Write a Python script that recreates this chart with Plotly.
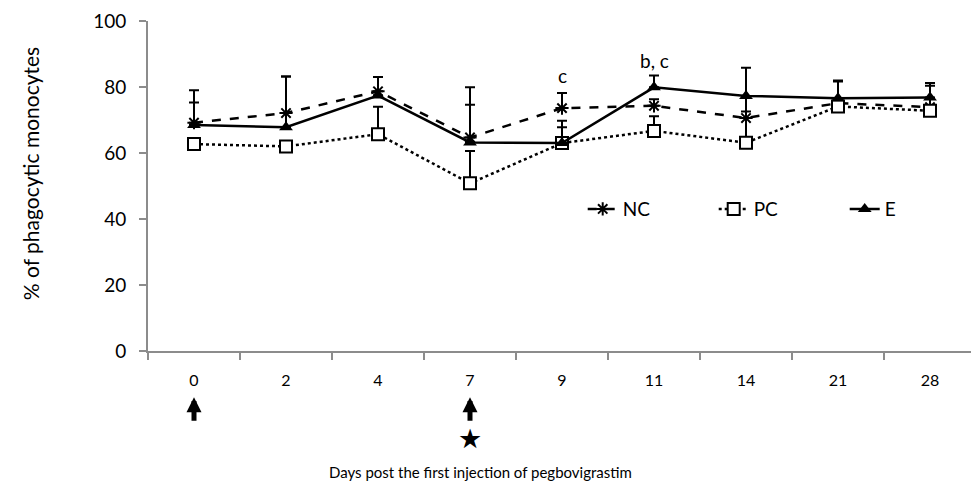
import plotly.graph_objects as go

days = ["0", "2", "4", "7", "9", "11", "14", "21", "28"]
nc = [69.2, 72.1, 78.7, 64.7, 73.6, 74.3, 70.6, 75.1, 73.9]
nc_err = [9.8, 11.1, 4.3, 9.9, 4.6, 2.0, 2.0, 6.6, 6.5]
pc = [62.7, 62.0, 65.7, 50.8, 63.0, 66.7, 63.1, 74.1, 72.8]
pc_err = [0.0, 0.0, 8.3, 9.8, 4.8, 4.4, 14.0, 0.0, 0.0]
e = [68.5, 67.8, 77.4, 63.2, 63.0, 79.9, 77.3, 76.6, 76.8]
e_err = [6.8, 15.4, 5.6, 16.7, 6.8, 3.6, 8.5, 5.4, 4.4]
sig_days = ["9", "11"]
sig_labels = ["c", "b, c"]
sig_y = [83.5, 88.0]
injection_days = ["0", "7"]
star_days = ["7"]
x_title = "Days post the first injection of pegbovigrastim"
y_title = "% of phagocytic monocytes"

FONT = "Lato"
fig = go.Figure()

def err(vals):
    return dict(type="data", array=vals, arrayminus=[0] * len(vals), symmetric=False,
                color="black", thickness=2, width=5)

fig.add_trace(go.Scatter(x=days, y=nc, name="NC", mode="lines+markers",
                         line=dict(color="black", width=2.5, dash="dash"),
                         marker=dict(symbol="asterisk-open", size=11, color="black",
                                     line=dict(color="black", width=2)),
                         error_y=err(nc_err)))
fig.add_trace(go.Scatter(x=days, y=pc, name="PC", mode="lines+markers",
                         line=dict(color="black", width=2.5, dash="dot"),
                         marker=dict(symbol="square", size=12, color="white",
                                     line=dict(color="black", width=2)),
                         error_y=err(pc_err)))
fig.add_trace(go.Scatter(x=days, y=e, name="E", mode="lines+markers",
                         line=dict(color="black", width=2.5),
                         marker=dict(symbol="triangle-up", size=12, color="black"),
                         error_y=err(e_err)))

annotations = []
for d, t, yv in zip(sig_days, sig_labels, sig_y):
    annotations.append(dict(x=days.index(d), y=yv, xref="x", yref="y", text=t, showarrow=False,
                            font=dict(family=FONT, size=19, color="black")))
for d in injection_days:
    annotations.append(dict(x=days.index(d), y=-0.14, xref="x", yref="paper", text="",
                            showarrow=True, ax=0, ay=25, axref="pixel", ayref="pixel",
                            arrowhead=2, arrowsize=0.6, arrowwidth=5, arrowcolor="black"))
for d in star_days:
    annotations.append(dict(x=days.index(d), y=-0.264, xref="x", yref="paper", text="★",
                            showarrow=False, yanchor="middle",
                            font=dict(family="DejaVu Sans", size=27, color="black")))
annotations.append(dict(x=0.401, y=-0.367, xref="paper", yref="paper", text=x_title,
                        showarrow=False, xanchor="center", yanchor="middle",
                        font=dict(family=FONT, size=15, color="black")))
annotations.append(dict(x=-0.1425, y=0.536, xref="paper", yref="paper", text=y_title,
                        showarrow=False, xanchor="center", yanchor="middle", textangle=-90,
                        font=dict(family=FONT, size=21, color="black")))

fig.update_layout(
    width=979, height=484,
    margin=dict(l=140, r=11, t=13, b=141, autoexpand=False),
    paper_bgcolor="white", plot_bgcolor="white",
    font=dict(family=FONT, size=16, color="black"),
    showlegend=True,
    legend=dict(orientation="h", x=0.525, y=0.43, xanchor="left", yanchor="middle",
                entrywidth=86, entrywidthmode="pixels",
                font=dict(family=FONT, size=19, color="black"),
                bgcolor="rgba(0,0,0,0)"),
    annotations=annotations,
)
fig.update_xaxes(type="category", range=[-0.5, 8.5], autorange=False, automargin=False,
                 showline=True, linecolor="#8c8c8c", linewidth=2,
                 ticks="outside", tickson="boundaries", ticklen=7, tickcolor="#8c8c8c",
                 tickwidth=2, showgrid=False, ticklabelstandoff=14,
                 tickfont=dict(family=FONT, size=16))
fig.update_yaxes(range=[0, 100], dtick=20, autorange=False, automargin=False,
                 showline=True, linecolor="#8c8c8c", linewidth=2,
                 ticks="outside", ticklen=7, tickcolor="#8c8c8c", tickwidth=2,
                 showgrid=False, zeroline=False, ticklabelstandoff=9,
                 tickfont=dict(family=FONT, size=19))

fig.write_html("out.html")
